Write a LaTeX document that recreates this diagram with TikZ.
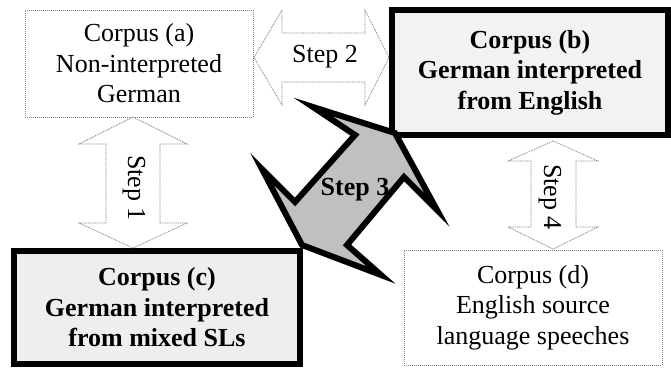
\documentclass[tikz,border=0pt]{standalone}
\usepackage{fontspec}
\setmainfont{Liberation Serif}
\usepackage{xcolor}
\usepackage{tikz}
\definecolor{boxgray}{HTML}{F2F2F2}
\definecolor{boxgrayc}{HTML}{EEEEEE}
\definecolor{arrowgray}{HTML}{C0C0C0}
\tikzset{
  thinbox/.style={draw=gray, line width=0.8pt, dash pattern=on 1pt off 1pt, inner sep=0pt, align=center},
  thickbox/.style={draw=black, line width=6pt, inner sep=0pt, align=center,
    font=\fontsize{26}{30.5}\selectfont\bfseries},
  thinarrow/.style={draw=gray, line width=0.7pt, dash pattern=on 1pt off 0.8pt, fill=white},
  bigarrow/.style={draw=black, line width=6pt, line join=miter, fill=arrowgray}
}

\begin{document}
\begin{tikzpicture}[x={(1pt,0)}, y={(0,-1pt)}, font=\fontsize{26}{30.5}\selectfont]
      \useasboundingbox (0,0) rectangle (671,367);

      \node[thinbox, minimum width=228pt, minimum height=107pt] (a) at (139,63.5)
        {Corpus (a)\\Non-interpreted\\German};
      \node[thickbox, fill=boxgray, minimum width=276pt, minimum height=125pt] (b) at (530,72.5)
        {Corpus (b)\\German interpreted\\from English};
      \node[thickbox, fill=boxgrayc, minimum width=286pt, minimum height=113pt] (c) at (157,307.5)
        {Corpus (c)\\German interpreted\\from mixed SLs};
      \node[thinbox, minimum width=258pt, minimum height=115pt] (d) at (533,307.5)
        {Corpus (d)\\English source\\language speeches};

      \draw[thinarrow] (254,57.5) -- (282,10) -- (282,33) -- (365,33) -- (365,10) -- (389,57.5)
        -- (365,105) -- (365,82) -- (282,82) -- (282,105) -- cycle;
      \draw[thinarrow] (133,117) -- (79,144) -- (106,144) -- (106,223) -- (79,223) -- (133,248)
        -- (187,223) -- (160,223) -- (160,144) -- (187,144) -- cycle;
      \draw[thinarrow] (553,141) -- (508,161) -- (531,161) -- (531,227) -- (508,227) -- (553,249)
        -- (598,227) -- (576,227) -- (576,161) -- (598,161) -- cycle;
      \draw[bigarrow] (395,133) -- (437,210) -- (404,177) -- (347,245) -- (381,275) -- (302,245)
        -- (262,169) -- (295,202) -- (355,135) -- (313,107) -- cycle;

      \node (step2) at (325,57) {Step 2};
      \node[rotate=-90] (step1) at (134,188) {Step 1};
      \node[rotate=-90] (step4) at (550,197) {Step 4};
      \node[font=\fontsize{26}{30.5}\selectfont\bfseries] (step3) at (355,190) {Step 3};
    \end{tikzpicture}
\end{document}
